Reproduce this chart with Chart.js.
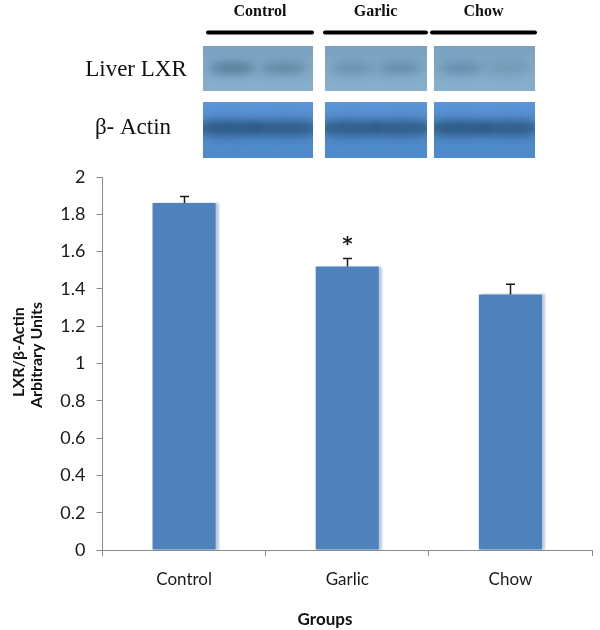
<!DOCTYPE html>
<html>
<head>
<meta charset="utf-8">
<script src="https://cdn.jsdelivr.net/npm/chart.js@4.4.1/dist/chart.umd.min.js"></script>
<style>
  html, body { margin: 0; padding: 0; background: #ffffff; }
  #wrap { width: 600px; height: 630px; position: relative; }
</style>
</head>
<body>
<div id="wrap"><canvas id="c" width="600" height="630"></canvas></div>
<script>
// ---- data ----
const categories = ['Control', 'Garlic', 'Chow'];
const ratioValues = [1.86, 1.52, 1.37];
const ratioErrors = [0.035, 0.043, 0.055];
const significance = ['', '*', ''];
const yTickLabels = ['0', '0.2', '0.4', '0.6', '0.8', '1', '1.2', '1.4', '1.6', '1.8', '2'];
const xAxisTitle = 'Groups';
const yAxisTitle = ['LXR/\u03B2-Actin', 'Arbitrary Units'];
const blotGroups = ['Control', 'Garlic', 'Chow'];
const blotRows = ['Liver LXR', '\u03B2- Actin'];
// relative band darkness per lane (2 lanes per group), per blot row
const blotBandLXR = [[0.6, 0.45], [0.3, 0.38], [0.38, 0.22]];
const blotBandActin = [[0.75, 0.7], [0.7, 0.7], [0.75, 0.7]];

// ---- western blot panel drawing (decorative header) ----
const blotPlugin = {
  id: 'blot',
  afterDraw(chart) {
    const ctx = chart.ctx;
    const panelsX = [[203, 313], [325, 427], [434, 535]];
    const linesX = [[208, 312], [325, 426], [432, 535]];
    const rowsY = [[46, 91], [102, 158]];
    ctx.save();
    // group labels
    ctx.fillStyle = '#111';
    ctx.font = 'bold 16px "Liberation Serif", "DejaVu Serif", serif';
    ctx.textAlign = 'center';
    ctx.textBaseline = 'middle';
    blotGroups.forEach((g, i) => {
      const cx = (linesX[i][0] + linesX[i][1]) / 2;
      ctx.fillText(g, cx, 12);
    });
    // black lines
    ctx.strokeStyle = '#000';
    ctx.lineWidth = 4;
    ctx.lineCap = 'round';
    linesX.forEach(([a, b]) => {
      ctx.beginPath(); ctx.moveTo(a, 32.5); ctx.lineTo(b, 32.5); ctx.stroke();
    });
    // row labels
    ctx.font = '23px "Liberation Serif", "DejaVu Serif", serif';
    ctx.fillText(blotRows[0], 136, 70);
    ctx.fillText(blotRows[1], 133, 128);
    // panels
    panelsX.forEach(([x0, x1], gi) => {
      const w = x1 - x0;
      // LXR panel
      let [y0, y1] = rowsY[0];
      let grd = ctx.createLinearGradient(0, y0, 0, y1);
      grd.addColorStop(0, '#7aa1bf');
      grd.addColorStop(1, '#88b0cd');
      ctx.fillStyle = grd;
      ctx.fillRect(x0, y0, w, y1 - y0);
      ctx.save();
      ctx.beginPath(); ctx.rect(x0, y0, w, y1 - y0); ctx.clip();
      ctx.filter = 'blur(4px)';
      blotBandLXR[gi].forEach((d, li) => {
        const cx = x0 + w * (li === 0 ? 0.27 : 0.73);
        ctx.fillStyle = 'rgba(60,100,125,' + d + ')';
        ctx.beginPath();
        ctx.ellipse(cx, 68, w * 0.21, 6, 0, 0, Math.PI * 2);
        ctx.fill();
      });
      ctx.restore();
      // Actin panel
      [y0, y1] = rowsY[1];
      grd = ctx.createLinearGradient(0, y0, 0, y1);
      grd.addColorStop(0, '#5d96d8');
      grd.addColorStop(0.5, '#4e88c8');
      grd.addColorStop(1, '#4f8bcc');
      ctx.fillStyle = grd;
      ctx.fillRect(x0, y0, w, y1 - y0);
      ctx.save();
      ctx.beginPath(); ctx.rect(x0, y0, w, y1 - y0); ctx.clip();
      ctx.filter = 'blur(5px)';
      blotBandActin[gi].forEach((d, li) => {
        const cx = x0 + w * (li === 0 ? 0.25 : 0.75);
        ctx.fillStyle = 'rgba(35,75,110,' + d + ')';
        ctx.beginPath();
        ctx.ellipse(cx, 128, w * 0.32, 8, 0, 0, Math.PI * 2);
        ctx.fill();
      });
      ctx.restore();
    });
    ctx.restore();
  }
};

// ---- bar shadow ----
const shadowPlugin = {
  id: 'barShadow',
  beforeDatasetsDraw(chart) {
    const ctx = chart.ctx;
    ctx.save();
    ctx.shadowColor = 'rgba(120,150,190,0.5)';
    ctx.shadowOffsetX = 3;
    ctx.shadowOffsetY = 0;
    ctx.shadowBlur = 2;
  },
  afterDatasetsDraw(chart) {
    chart.ctx.restore();
  }
};

// ---- error bars + significance + axis titles ----
const annotatePlugin = {
  id: 'annotate',
  afterDatasetsDraw(chart) {
    const ctx = chart.ctx;
    const y = chart.scales.y;
    const meta = chart.getDatasetMeta(0);
    ctx.save();
    ctx.strokeStyle = '#1a1a1a';
    ctx.lineWidth = 1.5;
    meta.data.forEach((bar, i) => {
      const x = Math.round(bar.x) + 0.5;
      const yb = y.getPixelForValue(ratioValues[i]);
      const yt = y.getPixelForValue(ratioValues[i] + ratioErrors[i]);
      ctx.beginPath();
      ctx.moveTo(x, yb); ctx.lineTo(x, yt);
      ctx.moveTo(x - 4.5, yt); ctx.lineTo(x + 4.5, yt);
      ctx.stroke();
      if (significance[i]) {
        ctx.fillStyle = '#1a1a1a';
        ctx.font = 'bold 20px "DejaVu Sans", sans-serif';
        ctx.textAlign = 'center';
        ctx.textBaseline = 'middle';
        ctx.fillText(significance[i], x, yt - 14);
      }
    });
    ctx.restore();
  },
  afterDraw(chart) {
    const ctx = chart.ctx;
    ctx.save();
    ctx.fillStyle = '#111';
    ctx.textAlign = 'center';
    ctx.textBaseline = 'middle';
    ctx.font = 'bold 17px Lato, "Open Sans", sans-serif';
    ctx.fillText(xAxisTitle, 325, 620);
    ctx.font = 'bold 16px Lato, "Open Sans", sans-serif';
    ctx.save();
    ctx.translate(19, 352);
    ctx.rotate(-Math.PI / 2);
    ctx.fillText(yAxisTitle[0], 0, 0);
    ctx.restore();
    ctx.save();
    ctx.translate(37, 355);
    ctx.rotate(-Math.PI / 2);
    ctx.fillText(yAxisTitle[1], 0, 0);
    ctx.restore();
    ctx.restore();
  }
};

const axisColor = '#8a8a8a';
new Chart(document.getElementById('c'), {
  type: 'bar',
  data: {
    labels: categories,
    datasets: [{
      data: ratioValues,
      backgroundColor: '#4f81bd',
      borderWidth: 0,
      categoryPercentage: 1.0,
      barPercentage: 0.387
    }]
  },
  options: {
    responsive: false,
    animation: false,
    events: [],
    layout: { padding: { left: 0, top: 177, right: 8, bottom: 0 } },
    plugins: { legend: { display: false }, tooltip: { enabled: false } },
    scales: {
      x: {
        grid: { display: true, drawOnChartArea: false, drawTicks: true, tickLength: 6, color: axisColor, offset: true },
        border: { display: true, color: axisColor, width: 1 },
        ticks: { color: '#1a1a1a', font: { family: 'Lato, "Open Sans", sans-serif', size: 17 }, padding: 13, maxRotation: 0 },
        afterFit(scale) { scale.height = 80; }
      },
      y: {
        min: 0, max: 2,
        grid: { display: true, drawOnChartArea: false, drawTicks: true, tickLength: 6, color: axisColor },
        border: { display: true, color: axisColor, width: 1 },
        ticks: {
          stepSize: 0.2,
          color: '#1a1a1a',
          font: { family: 'Lato, "Open Sans", sans-serif', size: 18 },
          padding: 11,
          callback: (v, i) => yTickLabels[i]
        },
        afterFit(scale) { scale.width = 102.5; }
      }
    }
  },
  plugins: [blotPlugin, shadowPlugin, annotatePlugin]
});
</script>
</body>
</html>
